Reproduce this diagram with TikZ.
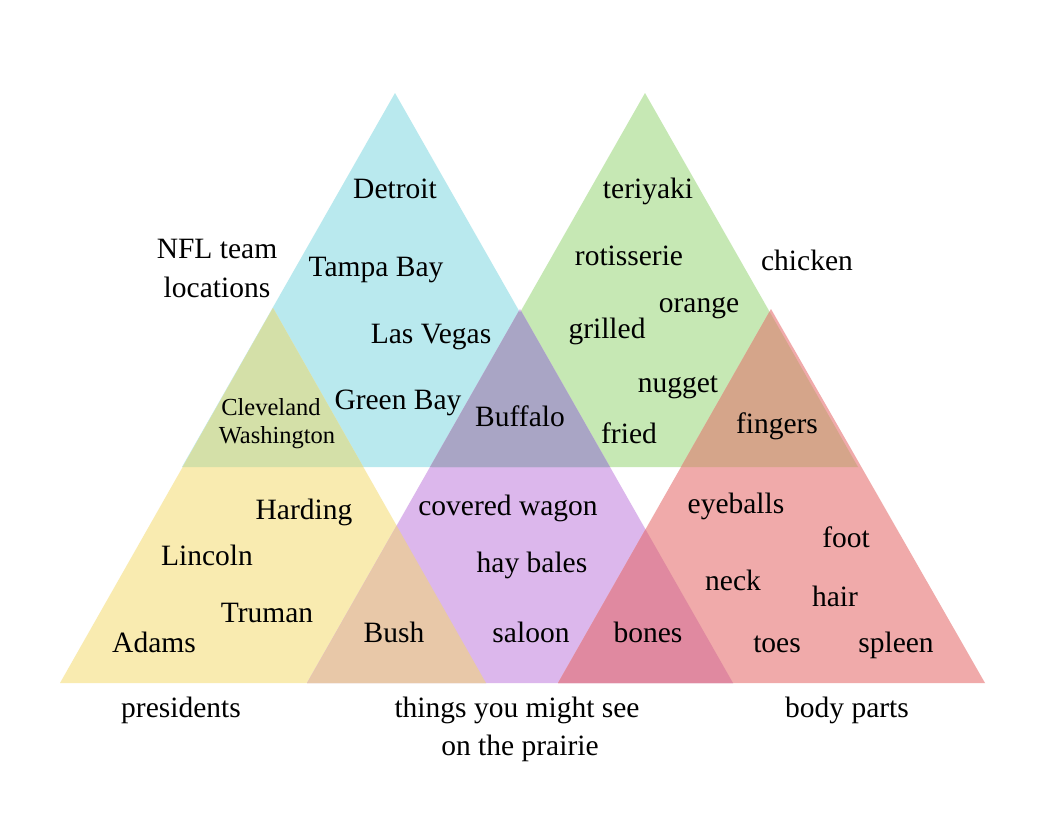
\documentclass[tikz,border=0pt]{standalone}
\usepackage{fontspec}
\setmainfont{Liberation Serif}
\definecolor{cBlue}{HTML}{B9E9EE}
\definecolor{cGreen}{HTML}{C6E8B4}
\definecolor{cYellow}{HTML}{F9EBB0}
\definecolor{cPurple}{HTML}{DCB7EC}
\definecolor{cRed}{HTML}{F0AAAA}
\definecolor{cOlive}{HTML}{D4E0A8}
\definecolor{cBuff}{HTML}{A9A5C5}
\definecolor{cFing}{HTML}{D5A58A}
\definecolor{cBush}{HTML}{E8C8A8}
\definecolor{cBones}{HTML}{E089A0}
\begin{document}
\begin{tikzpicture}[x=1pt,y=-1pt,
  lbl/.style={anchor=base,inner sep=0pt,font=\fontsize{29.5}{39}\selectfont},
  slbl/.style={anchor=base,inner sep=0pt,font=\fontsize{24.5}{28}\selectfont}]
\useasboundingbox (0,0) rectangle (1057,828);
\fill[white] (0,0) rectangle (1057,828);
\def\triB{(395,93) -- (182,467) -- (608,467) -- cycle}
\def\triG{(645,93) -- (432,467) -- (858,467) -- cycle}
\def\triY{(273,308) -- (60,683) -- (486,683) -- cycle}
\def\triP{(520,309) -- (307,683) -- (733,683) -- cycle}
\def\triR{(771,309) -- (558,683) -- (985,683) -- cycle}
% base triangles
\fill[cBlue] \triB;
\fill[cGreen] \triG;
\fill[cYellow] \triY;
\fill[cPurple] \triP;
\fill[cRed] \triR;
% overlaps
\begin{scope}\clip \triB; \fill[cOlive] \triY; \end{scope}
\begin{scope}\clip \triP; \fill[cBuff] \triB; \fill[cBuff] \triG; \end{scope}
\begin{scope}\clip \triG; \fill[cFing] \triR; \end{scope}
\begin{scope}\clip \triY; \fill[cBush] \triP; \end{scope}
\begin{scope}\clip \triP; \fill[cBones] \triR; \end{scope}
% labels
\node[lbl] (nfl1) at (217,258) {NFL team};
\node[lbl] (nfl2) at (217,297) {locations};
\node[lbl] (detroit) at (395,198) {Detroit};
\node[lbl] (tampa) at (376,276) {Tampa Bay};
\node[lbl] (vegas) at (431,343) {Las Vegas};
\node[lbl] (greenbay) at (398,409) {Green Bay};
\node[slbl] (cleveland) at (271,415) {Cleveland};
\node[slbl] (washington) at (277,443) {Washington};
\node[lbl] (buffalo) at (520,426) {Buffalo};
\node[lbl] (teriyaki) at (648,198) {teriyaki};
\node[lbl] (rotisserie) at (629,265) {rotisserie};
\node[lbl] (chicken) at (807,270) {chicken};
\node[lbl] (orange) at (699,312) {orange};
\node[lbl] (grilled) at (607,338) {grilled};
\node[lbl] (nugget) at (678,392) {nugget};
\node[lbl] (fried) at (629,443) {fried};
\node[lbl] (fingers) at (777,433) {fingers};
\node[lbl] (harding) at (304,519) {Harding};
\node[lbl] (lincoln) at (207,565) {Lincoln};
\node[lbl] (truman) at (267,622) {Truman};
\node[lbl] (adams) at (154,652) {Adams};
\node[lbl] (bush) at (394,642) {Bush};
\node[lbl] (wagon) at (508,515) {covered wagon};
\node[lbl] (hay) at (532,572) {hay bales};
\node[lbl] (saloon) at (531,642) {saloon};
\node[lbl] (bones) at (648,642) {bones};
\node[lbl] (eyeballs) at (736,513) {eyeballs};
\node[lbl] (foot) at (846,547) {foot};
\node[lbl] (neck) at (733,590) {neck};
\node[lbl] (hair) at (835,606) {hair};
\node[lbl] (toes) at (777,652) {toes};
\node[lbl] (spleen) at (896,652) {spleen};
\node[lbl] (presidents) at (181,717) {presidents};
\node[lbl] (prairie1) at (517,717) {things you might see};
\node[lbl] (prairie2) at (520,755) {on the prairie};
\node[lbl] (body) at (847,717) {body parts};
\end{tikzpicture}
\end{document}
